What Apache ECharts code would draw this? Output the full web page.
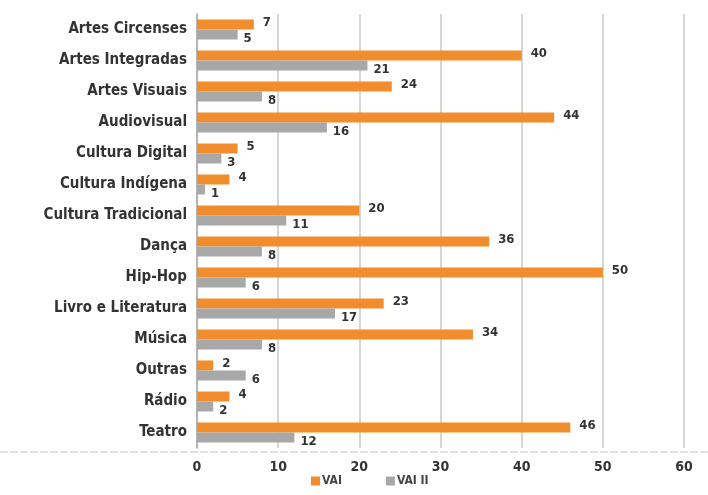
<!DOCTYPE html>
<html><head><meta charset="utf-8">
<script src="https://cdn.jsdelivr.net/npm/echarts@6/dist/echarts.min.js"></script>
<style>html,body{margin:0;padding:0;background:#fff}#c{width:708px;height:495px}</style>
</head><body><div id="c"></div>
<script>
const categories = ["Artes Circenses","Artes Integradas","Artes Visuais","Audiovisual","Cultura Digital","Cultura Indígena","Cultura Tradicional","Dança","Hip-Hop","Livro e Literatura","Música","Outras","Rádio","Teatro"];
const vai = [7,40,24,44,5,4,20,36,50,23,34,2,4,46];
const vai2 = [5,21,8,16,3,1,11,8,6,17,8,6,2,12];
const seriesNames = ["VAI","VAI II"];
const FONT = "'Liberation Sans Narrow','DejaVu Sans Condensed',sans-serif";
const chart = echarts.init(document.getElementById('c'));
chart.setOption({
  animation:false,
  textStyle:{fontFamily:FONT},
  grid:{left:197,right:24,top:14,bottom:47},
  legend:{bottom:3,left:306,itemWidth:9,itemHeight:9,itemGap:44,icon:'rect',
    textStyle:{fontFamily:FONT,fontSize:12,fontWeight:'bold',color:'#444',padding:[0,0,0,-3]},
    data:seriesNames},
  xAxis:{type:'value',min:0,max:60,interval:10,
    axisLine:{show:false},axisTick:{show:false},
    axisLabel:{fontFamily:FONT,fontSize:14,fontWeight:'bold',color:'#333',margin:12},
    splitLine:{lineStyle:{color:'#c8c8c8',width:1.5}}},
  yAxis:{type:'category',data:categories,inverse:true,
    axisLine:{lineStyle:{color:'#aaa',width:1.5}},
    axisTick:{length:5,lineStyle:{color:'#aaa'}},
    axisLabel:{fontFamily:FONT,fontSize:15,fontWeight:'bold',color:'#333',margin:10}},
  graphic:[{type:'line',shape:{x1:0,y1:452,x2:708,y2:452},style:{stroke:'#c4c4c4',lineWidth:1.2,lineDash:[8,2]}}],
  series:[
    {name:seriesNames[0],type:'bar',data:vai,barWidth:10,barGap:'0%',itemStyle:{color:'#F18D2C'},
     label:{show:true,position:'right',distance:9,offset:[0,-2],fontFamily:FONT,fontSize:13,fontWeight:'bold',color:'#333'}},
    {name:seriesNames[1],type:'bar',data:vai2,barWidth:10,itemStyle:{color:'#A8A8A8'},
     label:{show:true,position:'right',distance:6,offset:[0,4],fontFamily:FONT,fontSize:13,fontWeight:'bold',color:'#333'}}
  ]
});
</script></body></html>
